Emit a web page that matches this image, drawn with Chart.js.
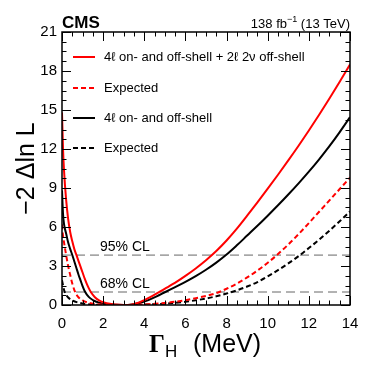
<!DOCTYPE html>
<html>
<head>
<meta charset="utf-8">
<script src="https://cdn.jsdelivr.net/npm/chart.js@4.4.1/dist/chart.umd.min.js"></script>
<style>
  html, body { margin: 0; padding: 0; background: #fff; }
</style>
</head>
<body>
<canvas id="chart" width="374" height="374"></canvas>
<script>
// observed, 4l on/off-shell + 2l2nu off-shell (red solid)
const obsCombX = [0, 0.05, 0.1, 0.2, 0.3, 0.4, 0.5, 0.6, 0.7, 0.8, 0.9, 1.0, 1.1, 1.2, 1.3, 1.4, 1.6, 1.8, 2.0, 2.4, 2.8, 3.2, 3.6, 4.0, 4.4, 4.8, 5.2, 5.6, 6.0, 6.5, 7.0, 7.5, 8.0, 8.5, 9.0, 9.5, 10, 10.5, 11, 11.5, 12, 12.5, 13, 13.5, 14];
const obsCombY = [14.8, 12.0, 10.3, 8.1, 6.6, 5.6, 4.9, 4.3, 3.85, 3.4, 2.95, 2.5, 2.05, 1.65, 1.3, 1.0, 0.6, 0.36, 0.22, 0.08, 0.02, 0, 0.12, 0.38, 0.7, 1.06, 1.44, 1.82, 2.24, 2.81, 3.44, 4.15, 4.96, 5.87, 6.87, 7.9, 8.95, 10.02, 11.12, 12.25, 13.42, 14.63, 15.88, 17.17, 18.5];

// expected, combined (red dashed)
const expCombX = [0, 0.05, 0.1, 0.2, 0.3, 0.4, 0.5, 0.6, 0.7, 0.8, 1.0, 1.3, 1.6, 2.0, 2.5, 3.0, 3.5, 4.0, 4.5, 5.0, 5.5, 6.0, 6.5, 7.0, 7.5, 8.0, 8.5, 9.0, 9.5, 10.0, 10.5, 11.0, 11.5, 12.0, 12.5, 13.0, 13.5, 14.0];
const expCombY = [6.2, 5.3, 4.8, 3.85, 3.0, 2.3, 1.65, 1.15, 0.82, 0.6, 0.35, 0.17, 0.08, 0.03, 0.005, 0, 0.01, 0.04, 0.09, 0.16, 0.25, 0.37, 0.52, 0.7, 0.91, 1.25, 1.65, 2.12, 2.65, 3.25, 3.92, 4.65, 5.45, 6.3, 7.17, 8.05, 8.92, 9.8];

// observed, 4l on- and off-shell only (black solid)
const obs4lX = [0, 0.05, 0.1, 0.2, 0.3, 0.4, 0.5, 0.6, 0.7, 0.8, 0.9, 1.0, 1.1, 1.3, 1.5, 1.8, 2.2, 2.6, 3.0, 3.4, 3.8, 4.2, 4.6, 5.0, 5.5, 6.0, 6.5, 7.0, 7.5, 8.0, 8.5, 9.0, 9.5, 10, 10.5, 11, 11.5, 12, 12.5, 13, 13.5, 14];
const obs4lY = [8.8, 7.0, 6.2, 5.5, 4.8, 4.3, 3.85, 3.35, 2.85, 2.35, 1.9, 1.45, 1.08, 0.62, 0.38, 0.18, 0.06, 0.01, 0, 0.04, 0.17, 0.38, 0.66, 0.98, 1.38, 1.78, 2.22, 2.71, 3.26, 3.88, 4.59, 5.34, 6.09, 6.87, 7.67, 8.5, 9.36, 10.26, 11.21, 12.22, 13.3, 14.45];

// expected, 4l only (black dashed)
const exp4lX = [0, 0.1, 0.2, 0.3, 0.5, 0.8, 1.2, 1.6, 2.2, 3.0, 4.0, 5.0, 6.0, 6.5, 7.0, 7.5, 8.0, 8.5, 9.0, 9.5, 10.0, 10.5, 11.0, 11.5, 12.0, 12.5, 13.0, 13.5, 14.0];
const exp4lY = [1.9, 1.15, 0.8, 0.58, 0.35, 0.18, 0.07, 0.02, 0, 0, 0.03, 0.1, 0.25, 0.36, 0.5, 0.67, 0.88, 1.13, 1.42, 1.76, 2.2, 2.68, 3.2, 3.76, 4.38, 5.03, 5.72, 6.44, 7.2];

const legendLabels = ['4\u2113 on- and off-shell + 2\u2113 2\u03bd off-shell', 'Expected', '4\u2113 on- and off-shell', 'Expected'];
const clLevels = [3.84, 1.0];
const clLabels = ['95% CL', '68% CL'];
const xTicks = [0, 2, 4, 6, 8, 10, 12, 14];
const yTicks = [0, 3, 6, 9, 12, 15, 18, 21];

const SANS = '"Liberation Sans", Arial, Helvetica, sans-serif';

function toPoints(xs, ys) {
  return xs.map((x, i) => ({ x: x, y: ys[i] }));
}

function curve(label, xs, ys, color, dashed) {
  return {
    label: label,
    data: toPoints(xs, ys),
    borderColor: color,
    borderWidth: 2,
    borderDash: dashed ? [5, 3] : [],
    pointRadius: 0,
    cubicInterpolationMode: 'monotone',
    fill: false
  };
}

const datasets = [
  curve(legendLabels[0], obsCombX, obsCombY, '#ff0000', false),
  curve(legendLabels[1], expCombX, expCombY, '#ff0000', true),
  curve(legendLabels[2], obs4lX, obs4lY, '#000000', false),
  curve(legendLabels[3], exp4lX, exp4lY, '#000000', true)
];
clLevels.forEach(v => {
  datasets.push({
    label: 'cl',
    data: [{ x: 0, y: v }, { x: 14, y: v }],
    borderColor: '#666666',
    borderWidth: 1,
    borderDash: [9, 5],
    pointRadius: 0,
    fill: false
  });
});

// frame, inner ticks, legend, CL labels, axis titles, header
const decorations = {
  id: 'decorations',
  afterDraw(chart) {
    const ctx = chart.ctx;
    const a = chart.chartArea;
    const xs = chart.scales.x, ys = chart.scales.y;
    ctx.save();

    // ticks on all four sides, pointing inward
    ctx.strokeStyle = '#000';
    ctx.lineWidth = 1;
    ctx.beginPath();
    for (let v = 0; v <= 14.001; v += 0.5) {
      const px = Math.round(xs.getPixelForValue(v)) + 0.5;
      const len = (Math.abs(v % 2) < 1e-6) ? 9 : 4.5;
      ctx.moveTo(px, a.bottom); ctx.lineTo(px, a.bottom - len);
      ctx.moveTo(px, a.top); ctx.lineTo(px, a.top + len);
    }
    for (let v = 0; v <= 21.001; v += 0.75) {
      const py = Math.round(ys.getPixelForValue(v)) + 0.5;
      const len = (Math.abs(v % 3) < 1e-6) ? 9 : 4.5;
      ctx.moveTo(a.left, py); ctx.lineTo(a.left + len, py);
      ctx.moveTo(a.right, py); ctx.lineTo(a.right - len, py);
    }
    ctx.stroke();

    // frame
    ctx.lineWidth = 1.5;
    ctx.strokeRect(a.left, a.top, a.right - a.left, a.bottom - a.top);

    // legend
    ctx.font = '13px ' + SANS;
    ctx.textBaseline = 'middle';
    ctx.fillStyle = '#000';
    const rowY = [57, 88, 118, 148];
    datasets.slice(0, 4).forEach((ds, i) => {
      ctx.beginPath();
      ctx.strokeStyle = ds.borderColor;
      ctx.lineWidth = 2;
      ctx.setLineDash(ds.borderDash);
      ctx.moveTo(73, rowY[i]);
      ctx.lineTo(95, rowY[i]);
      ctx.stroke();
      ctx.setLineDash([]);
      ctx.fillText(legendLabels[i], 104, rowY[i]);
    });

    // CL labels
    ctx.font = '14px ' + SANS;
    ctx.textBaseline = 'alphabetic';
    clLevels.forEach((v, i) => {
      ctx.fillText(clLabels[i], 100, ys.getPixelForValue(v) - 4);
    });

    // header
    ctx.font = 'bold 17px ' + SANS;
    ctx.fillText('CMS', 62, 28);
    ctx.textAlign = 'right';
    ctx.font = '13px ' + SANS;
    const tail = ' (13 TeV)';
    const wTail = ctx.measureText(tail).width;
    ctx.fillText(tail, a.right, 28);
    ctx.font = '9px ' + SANS;
    const sup = '\u22121';
    const wSup = ctx.measureText(sup).width;
    ctx.fillText(sup, a.right - wTail, 22);
    ctx.font = '13px ' + SANS;
    ctx.fillText('138 fb', a.right - wTail - wSup, 28);

    // y title
    ctx.save();
    ctx.translate(34, (a.top + a.bottom) / 2);
    ctx.rotate(-Math.PI / 2);
    ctx.textAlign = 'center';
    ctx.font = '25px ' + SANS;
    ctx.fillText('\u22122 \u0394ln L', 0, 0);
    ctx.restore();

    // x title: Gamma_H (MeV)
    ctx.textAlign = 'left';
    ctx.font = 'bold 25px "Liberation Serif", "Times New Roman", serif';
    ctx.fillText('\u0393', 149, 352);
    ctx.font = '17px ' + SANS;
    ctx.fillText('H', 165, 357);
    ctx.font = '25px ' + SANS;
    ctx.fillText('(MeV)', 193, 352);

    ctx.restore();
  }
};

new Chart(document.getElementById('chart'), {
  type: 'line',
  data: { datasets: datasets },
  options: {
    responsive: false,
    devicePixelRatio: 1,
    animation: false,
    layout: { padding: { top: 32, right: 24, left: 0, bottom: 0 } },
    plugins: { legend: { display: false }, tooltip: { enabled: false } },
    scales: {
      x: {
        type: 'linear',
        min: 0,
        max: 14,
        afterBuildTicks: s => { s.ticks = xTicks.map(v => ({ value: v })); },
        afterFit: s => { s.height = 69; },
        grid: { display: false, drawTicks: false },
        border: { display: false },
        ticks: { color: '#000', padding: 10, font: { size: 15, family: SANS }, maxRotation: 0 }
      },
      y: {
        type: 'linear',
        min: 0,
        max: 21,
        afterBuildTicks: s => { s.ticks = yTicks.map(v => ({ value: v })); },
        afterFit: s => { s.width = 62; },
        grid: { display: false, drawTicks: false },
        border: { display: false },
        ticks: { color: '#000', padding: 5, font: { size: 15, family: SANS } }
      }
    }
  },
  plugins: [decorations]
});
</script>
</body>
</html>
